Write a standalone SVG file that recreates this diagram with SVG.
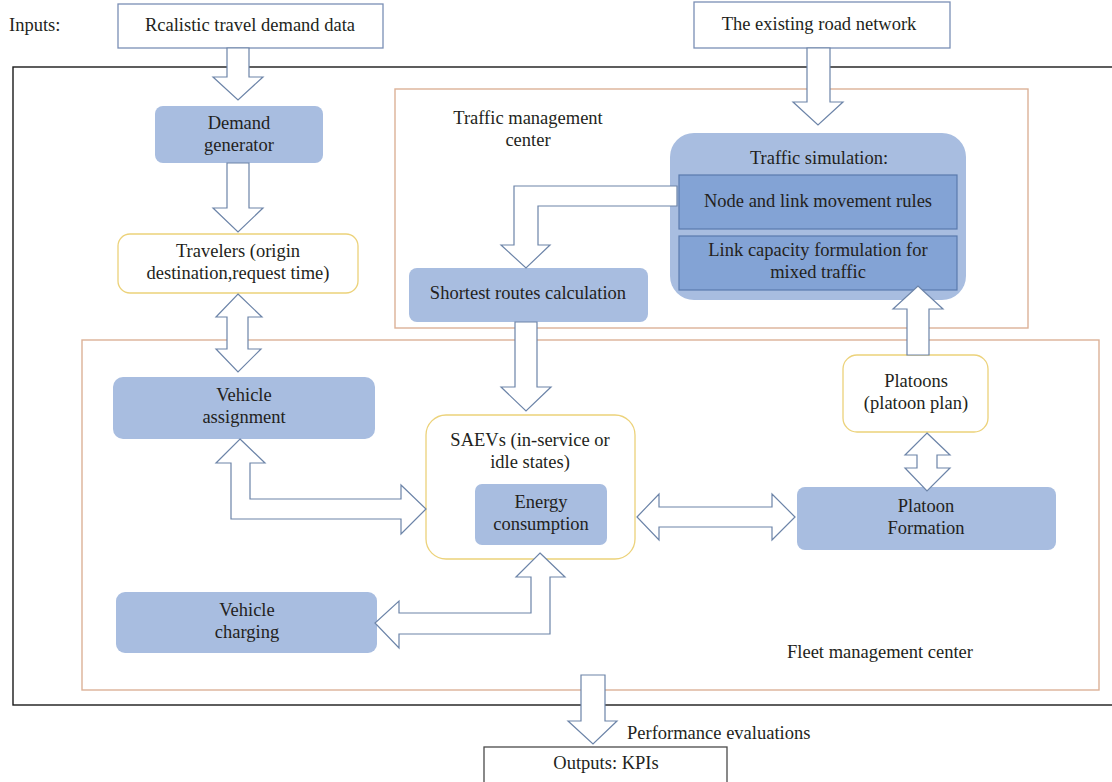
<svg xmlns="http://www.w3.org/2000/svg" width="1112" height="782" viewBox="0 0 1112 782">
<style>
text{font-family:"Liberation Serif","DejaVu Serif",serif;font-size:18.5px;fill:#231f20}
.c{text-anchor:middle}
.lb{fill:#a8bde0}
.db{fill:#83a3d5;stroke:#5a7aad;stroke-width:1.2}
.yl{fill:#fff;stroke:#ecd27a;stroke-width:1.3}
.in{fill:#fff;stroke:#7a8fb5;stroke-width:1.3}
.tan{fill:none;stroke:#dcb197;stroke-width:1.4}
.ar{fill:#fff;stroke:#6c84a8;stroke-width:1.2;stroke-linejoin:miter}
</style>
<rect width="1112" height="782" fill="#fff"/>
<g id="frame">
<rect x="13" y="67" width="1110" height="638" fill="none" stroke="#1a1a1a" stroke-width="1.4"/>
</g>
<g id="traffic-center">
<rect class="tan" x="395" y="89" width="633" height="239"/>
<text class="c" x="528" y="124">Traffic management</text>
<text class="c" x="528" y="146">center</text>
</g>
<g id="fleet-center">
<rect class="tan" x="82" y="340" width="1017" height="350"/>
<text class="c" x="880" y="658">Fleet management center</text>
</g>
<g id="inputs-label"><text x="9" y="31">Inputs:</text></g>
<g id="demand-data">
<rect class="in" x="118" y="4" width="265" height="44"/>
<text class="c" x="250" y="31">Rcalistic travel demand data</text>
</g>
<g id="road-network">
<rect class="in" x="694" y="2" width="256" height="46"/>
<text class="c" x="819" y="30">The existing road network</text>
</g>
<g id="demand-generator">
<rect class="lb" x="155" y="106" width="168" height="57" rx="8"/>
<text class="c" x="239" y="129">Demand</text>
<text class="c" x="239" y="151">generator</text>
</g>
<g id="travelers">
<rect class="yl" x="118" y="234" width="240" height="59" rx="12"/>
<text class="c" x="238" y="257">Travelers (origin</text>
<text class="c" x="238" y="279">destination,request time)</text>
</g>
<g id="traffic-simulation">
<rect class="lb" x="670" y="133" width="296" height="167" rx="24"/>
<text class="c" x="819" y="164">Traffic simulation:</text>
</g>
<g id="node-link-rules">
<rect class="db" x="679" y="175" width="278" height="54"/>
<text class="c" x="818" y="207">Node and link movement rules</text>
</g>
<g id="link-capacity">
<rect class="db" x="679" y="236" width="278" height="54"/>
<text class="c" x="818" y="256">Link capacity formulation for</text>
<text class="c" x="818" y="278">mixed traffic</text>
</g>
<g id="shortest-routes">
<rect class="lb" x="409" y="268" width="239" height="54" rx="8"/>
<text class="c" x="528" y="299">Shortest routes calculation</text>
</g>
<g id="vehicle-assignment">
<rect class="lb" x="113" y="377" width="262" height="62" rx="10"/>
<text class="c" x="244" y="401">Vehicle</text>
<text class="c" x="244" y="423">assignment</text>
</g>
<g id="saevs">
<rect class="yl" x="426" y="415" width="209" height="144" rx="20"/>
<text class="c" x="530" y="446">SAEVs (in-service or</text>
<text class="c" x="530" y="468">idle states)</text>
</g>
<g id="energy">
<rect class="lb" x="475" y="484" width="132" height="61" rx="7"/>
<text class="c" x="541" y="508">Energy</text>
<text class="c" x="541" y="530">consumption</text>
</g>
<g id="platoons">
<rect class="yl" x="843" y="355" width="145" height="77" rx="14"/>
<text class="c" x="916" y="387">Platoons</text>
<text class="c" x="916" y="409">(platoon plan)</text>
</g>
<g id="platoon-formation">
<rect class="lb" x="797" y="487" width="259" height="63" rx="8"/>
<text class="c" x="926" y="512">Platoon</text>
<text class="c" x="926" y="534">Formation</text>
</g>
<g id="vehicle-charging">
<rect class="lb" x="116" y="592" width="261" height="61" rx="9"/>
<text class="c" x="247" y="616">Vehicle</text>
<text class="c" x="247" y="638">charging</text>
</g>
<g id="outputs">
<rect x="484" y="747" width="243" height="50" fill="#fff" stroke="#4a4a4a" stroke-width="1.3"/>
<text class="c" x="606" y="769">Outputs: KPIs</text>
</g>
<g id="performance-label"><text x="627" y="739">Performance evaluations</text></g>
<g id="connectors">
<polygon class="ar" points="227,48 249,48 249,77 263,77 238,100 213,77 227,77"/>
<polygon class="ar" points="807,48 830,48 830,102 843,102 818,125 793,102 807,102"/>
<polygon class="ar" points="227,163 249,163 249,208 263,208 238,232 213,208 227,208"/>
<polygon class="ar" points="238,294 262,317 248,317 248,349 261,349 238,372 216,349 227,349 227,317 216,317"/>
<polygon class="ar" points="677,186 514,186 514,245 501,245 526,268 550,245 538,245 538,206 677,206"/>
<polygon class="ar" points="515,322 537,322 537,387 551,387 526,411 501,387 515,387"/>
<polygon class="ar" points="907,355 907,309 893,309 918,286 943,309 929,309 929,355"/>
<polygon class="ar" points="240,439 265,463 250,463 250,499 401,499 401,485 426,509 401,534 401,519 231,519 231,463 216,463"/>
<polygon class="ar" points="540,553 565,577 550,577 550,634 399,634 399,648 375,623 399,601 399,613 531,613 531,577 516,577"/>
<polygon class="ar" points="637,517 659,494 659,507 772,507 772,494 795,517 772,540 772,527 659,527 659,540"/>
<polygon class="ar" points="927,433 950,455 937,455 937,468 950,468 927,491 905,468 917,468 917,455 905,455"/>
<polygon class="ar" points="581,675 605,675 605,721 617,721 593,744 568,721 581,721"/>
</g>
</svg>
